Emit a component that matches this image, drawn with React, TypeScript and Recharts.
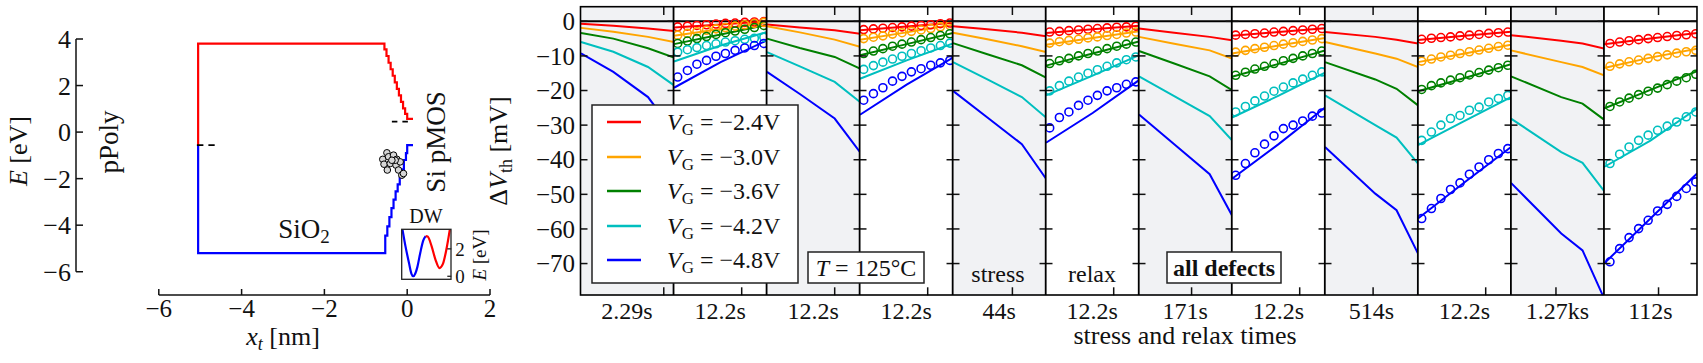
import React from 'react';
import { ComposedChart, Line, XAxis, YAxis, ReferenceLine, CartesianGrid } from 'recharts';

const FONT = '"Liberation Serif", "DejaVu Serif", serif';
const INK = '#111';
const GRAY = '#f1f2f4';

// ---------------- left panel: band diagram ----------------
const bandXTicks = [-6, -4, -2, 0, 2];
const bandYTicks = [-6, -4, -2, 0, 2, 4];
const cbX = [-5.05, -5.05, -0.55, -0.5, -0.45, -0.4, -0.35, -0.3, -0.25, -0.2, -0.15, -0.1, -0.05, 0.0, 0.03, 0.14];
const cbE = [-0.56, 3.8, 3.8, 3.55, 3.27, 2.98, 2.7, 2.42, 2.14, 1.86, 1.58, 1.3, 1.02, 0.78, 0.57, 0.57];
const vbX = [-5.05, -5.05, -0.53, -0.53, -0.48, -0.43, -0.38, -0.33, -0.28, -0.23, -0.18, -0.13, -0.08, -0.03, 0.0, 0.02, 0.14];
const vbE = [-0.56, -5.2, -5.2, -4.86, -4.45, -4.05, -3.65, -3.27, -2.9, -2.55, -2.25, -1.95, -1.6, -1.2, -0.9, -0.56, -0.56];
const fermiPolyX = [-5.08, -4.65];
const fermiPolyE = [-0.56, -0.56];
const fermiSiX = [-0.37, 0.03];
const fermiSiE = [0.45, 0.45];
const defectX = [-0.59, -0.49, -0.45, -0.33, -0.25, -0.56, -0.41, -0.27, -0.17, -0.48, -0.21, -0.13, -0.09, -0.29, -0.37];
const defectE = [-1.17, -0.89, -1.06, -0.99, -1.17, -1.38, -1.35, -1.42, -1.28, -1.63, -1.63, -1.85, -1.78, -1.21, -1.21];

// inset: double well
const dwBlueX = [0.01, 0.07, 0.14, 0.19, 0.23, 0.27, 0.31, 0.37, 0.43, 0.48];
const dwBlueE = [3.4, 2.2, 1.0, 0.2, 0.0, 0.2, 0.65, 1.7, 2.6, 2.93];
const dwRedX = [0.48, 0.52, 0.6, 0.68, 0.76, 0.83, 0.9, 0.97];
const dwRedE = [2.93, 2.9, 2.2, 1.2, 0.6, 0.9, 1.95, 3.4];
const dwTicks = [0, 2];

const zipXY = (xs: number[], es: number[]) => xs.map((x, i) => ({ x, e: es[i] }));

// ---------------- right panel: stress / relax ----------------
const vgLabels = ['\u22122.4V', '\u22123.0V', '\u22123.6V', '\u22124.2V', '\u22124.8V'];
const vgColors = ['#ff0000', '#ffa500', '#008000', '#00bfbf', '#0000ff'];
const panelLabels = ['2.29s', '12.2s', '12.2s', '12.2s', '44s', '12.2s', '171s', '12.2s', '514s', '12.2s', '1.27ks', '112s'];
const panelEnds = [2.29, 12.2, 12.2, 12.2, 44, 12.2, 171, 12.2, 514, 12.2, 1270, 112];
const yTicks = [0, -10, -20, -30, -40, -50, -60, -70];
const TMIN = 0.00125;

// stress (model only) — order: -2.4, -3.0, -3.6, -4.2, -4.8 V
const stress1Times = [0.00125, 0.017, 0.28, 2.29];
const stress1 = [
  [-0.7, -1.3, -2.1, -2.8],
  [-1.9, -3.0, -4.5, -6.0],
  [-3.4, -5.0, -7.8, -10.5],
  [-6.0, -8.8, -13.2, -18.5],
  [-9.3, -14.6, -21.9, -32.0],
];
const stress2Times = [0.00125, 0.032, 1, 12.2];
const stress2 = [
  [-0.9, -1.8, -2.6, -3.6],
  [-1.4, -3.2, -5.3, -7.4],
  [-5.0, -7.7, -10.3, -13.7],
  [-8.9, -13.0, -17.5, -23.3],
  [-14.6, -21.0, -28.1, -37.8],
];
const stress3Times = [0.00125, 0.06, 2.9, 44];
const stress3 = [
  [-1.4, -2.3, -3.3, -4.3],
  [-3.3, -5.2, -7.2, -8.9],
  [-6.3, -9.5, -12.7, -16.3],
  [-11.8, -16.8, -21.9, -27.8],
  [-20.1, -27.8, -35.5, -45.5],
];
const stress4Times = [0.00125, 0.11, 10, 171];
const stress4 = [
  [-2.1, -3.3, -4.5, -5.5],
  [-4.5, -6.5, -8.4, -10.8],
  [-8.6, -12.2, -15.9, -19.9],
  [-15.9, -21.6, -27.4, -34.4],
  [-26.9, -35.5, -44.2, -56.1],
];
const stress5Times = [0.00125, 1.35, 26, 514];
const stress5 = [
  [-3.1, -4.5, -5.3, -6.4],
  [-6.0, -9.3, -10.8, -13.2],
  [-11.8, -16.8, -19.5, -24.3],
  [-21.4, -30.0, -33.6, -41.1],
  [-36.3, -49.8, -54.6, -67.1],
];
const stress6Times = [0.00125, 2.2, 52, 1270];
const stress6 = [
  [-4.0, -5.6, -6.4, -7.9],
  [-8.4, -11.8, -13.2, -15.6],
  [-15.9, -21.9, -23.8, -28.4],
  [-28.1, -37.8, -40.9, -49.0],
  [-46.7, -61.3, -66.2, -80.0],
];

// relax: model line + measured circles
const relaxShortModelTimes = [0.00125, 0.125, 12.2];
const relaxLongModelTimes = [0.00125, 0.37, 112];
const relaxShortMeasTimes = [0.0018, 0.0047, 0.012, 0.031, 0.079, 0.2, 0.52, 1.35, 3.5, 8.9];
const relaxLongMeasTimes = [0.0026, 0.0085, 0.027, 0.087, 0.28, 0.89, 2.9, 9.3, 30, 96];

const relax1Model = [
  [-1.8, -0.9, 0.0],
  [-4.2, -2.2, -0.3],
  [-6.6, -3.8, -1.0],
  [-11.6, -7.0, -3.1],
  [-19.2, -11.8, -5.5],
];
const relax1Meas = [
  [-1.6, -1.4, -1.2, -1.0, -0.8, -0.6, -0.5, -0.3, -0.2, -0.1],
  [-4.0, -3.5, -3.0, -2.6, -2.2, -1.8, -1.4, -1.0, -0.6, -0.3],
  [-6.4, -5.7, -5.0, -4.4, -3.8, -3.3, -2.8, -2.3, -1.8, -1.2],
  [-8.9, -8.2, -7.6, -7.0, -6.5, -6.0, -5.6, -5.2, -4.9, -4.6],
  [-16.1, -14.2, -12.4, -11.3, -10.1, -9.3, -8.4, -7.7, -7.0, -6.4],
];
const relax2Model = [
  [-2.6, -1.5, -0.4],
  [-5.3, -3.2, -1.0],
  [-9.8, -6.6, -3.4],
  [-16.6, -11.3, -6.4],
  [-27.0, -18.3, -10.5],
];
const relax2Meas = [
  [-2.4, -2.2, -2.0, -1.8, -1.6, -1.4, -1.2, -1.0, -0.7, -0.5],
  [-5.0, -4.6, -4.2, -3.7, -3.3, -2.9, -2.5, -2.1, -1.6, -1.2],
  [-9.3, -8.6, -7.9, -7.2, -6.6, -6.0, -5.3, -4.7, -4.1, -3.6],
  [-13.9, -12.8, -11.8, -10.9, -10.1, -9.3, -8.5, -7.7, -7.0, -6.3],
  [-22.8, -20.9, -19.2, -17.3, -15.9, -14.6, -13.7, -12.7, -12.0, -11.3],
];
const relax3Model = [
  [-3.4, -2.3, -1.3],
  [-6.8, -4.8, -2.9],
  [-12.8, -9.3, -5.8],
  [-21.4, -15.7, -9.8],
  [-35.1, -26.5, -17.0],
];
const relax3Meas = [
  [-3.1, -2.9, -2.7, -2.5, -2.3, -2.1, -1.9, -1.7, -1.6, -1.4],
  [-6.3, -5.9, -5.5, -5.2, -4.8, -4.5, -4.1, -3.8, -3.4, -3.1],
  [-12.2, -11.4, -10.7, -10.0, -9.3, -8.6, -7.9, -7.2, -6.6, -6.0],
  [-20.1, -18.6, -17.3, -16.1, -15.0, -14.0, -13.0, -12.0, -11.1, -10.3],
  [-30.8, -27.8, -26.2, -24.3, -22.8, -21.4, -20.1, -19.2, -18.2, -17.5],
];
const relax4Model = [
  [-4.2, -3.1, -2.0],
  [-9.3, -7.0, -4.8],
  [-16.0, -12.3, -8.4],
  [-27.8, -21.5, -14.8],
  [-45.5, -35.5, -24.9],
];
const relax4Meas = [
  [-4.0, -3.8, -3.6, -3.4, -3.1, -2.9, -2.7, -2.5, -2.3, -2.1],
  [-8.9, -8.4, -7.9, -7.5, -7.0, -6.6, -6.2, -5.8, -5.4, -5.0],
  [-15.6, -14.7, -13.8, -13.0, -12.2, -11.4, -10.7, -10.0, -9.3, -8.6],
  [-26.2, -24.6, -23.0, -21.6, -20.2, -19.0, -17.8, -16.7, -15.6, -14.6],
  [-44.5, -41.1, -38.0, -35.5, -33.1, -31.0, -30.0, -28.8, -27.4, -26.5],
];
const relax5Model = [
  [-5.4, -4.2, -3.0],
  [-11.8, -9.3, -6.8],
  [-20.2, -16.4, -12.4],
  [-35.8, -28.8, -21.9],
  [-57.0, -46.5, -36.3],
];
const relax5Meas = [
  [-5.2, -4.9, -4.7, -4.5, -4.2, -4.0, -3.8, -3.5, -3.3, -3.1],
  [-11.5, -10.9, -10.3, -9.8, -9.3, -8.8, -8.3, -7.8, -7.3, -6.9],
  [-19.7, -18.6, -17.8, -17.0, -16.3, -15.5, -14.8, -14.1, -13.4, -12.7],
  [-34.4, -32.0, -30.0, -28.1, -27.2, -25.7, -24.8, -23.3, -22.3, -21.4],
  [-57.0, -54.1, -51.2, -48.6, -46.7, -44.2, -42.1, -40.0, -38.2, -36.8],
];
const relax6Model = [
  [-6.6, -5.0, -3.4],
  [-13.5, -10.5, -7.9],
  [-25.2, -19.8, -14.4],
  [-42.1, -34.5, -25.2],
  [-70.0, -57.0, -44.0],
];
const relax6Meas = [
  [-6.4, -6.0, -5.6, -5.3, -5.0, -4.7, -4.4, -4.1, -3.9, -3.6],
  [-13.0, -12.3, -11.7, -11.2, -10.7, -10.2, -9.7, -9.2, -8.8, -8.4],
  [-24.6, -23.3, -22.2, -21.2, -20.2, -19.3, -18.3, -17.3, -16.3, -15.3],
  [-41.1, -38.4, -36.3, -34.4, -32.9, -31.5, -30.3, -29.1, -27.6, -26.2],
  [-69.5, -65.7, -62.5, -59.9, -57.5, -54.8, -52.9, -50.6, -48.3, -46.4],
];

type PanelDef = { model: number[][]; modelTimes: number[]; meas?: number[][]; measTimes?: number[] };
const panels: PanelDef[] = [
  { model: stress1, modelTimes: stress1Times },
  { model: relax1Model, modelTimes: relaxShortModelTimes, meas: relax1Meas, measTimes: relaxShortMeasTimes },
  { model: stress2, modelTimes: stress2Times },
  { model: relax2Model, modelTimes: relaxShortModelTimes, meas: relax2Meas, measTimes: relaxShortMeasTimes },
  { model: stress3, modelTimes: stress3Times },
  { model: relax3Model, modelTimes: relaxShortModelTimes, meas: relax3Meas, measTimes: relaxShortMeasTimes },
  { model: stress4, modelTimes: stress4Times },
  { model: relax4Model, modelTimes: relaxShortModelTimes, meas: relax4Meas, measTimes: relaxShortMeasTimes },
  { model: stress5, modelTimes: stress5Times },
  { model: relax5Model, modelTimes: relaxShortModelTimes, meas: relax5Meas, measTimes: relaxShortMeasTimes },
  { model: stress6, modelTimes: stress6Times },
  { model: relax6Model, modelTimes: relaxLongModelTimes, meas: relax6Meas, measTimes: relaxLongMeasTimes },
];

// ---------------- layout ----------------
const X0 = 580.5;
const Y0 = 6.7;
const PW = 93.04;
const PH = 288.3;
const YMIN = -79.17;
const YMAX = 4.13;
const YAXW = 62;
const XAXH = 10;

const fmt = (v: number) => (v < 0 ? '\u2212' + Math.abs(v) : String(v));

const zipTV = (ts: number[], vs: number[]) => ts.map((t, i) => ({ t, v: vs[i] }));

const PanelXTick = (props: any) => {
  const { x, y } = props;
  return (
    <g>
      <line x1={x} x2={x} y1={y} y2={y - 8} stroke={INK} strokeWidth={1.5} />
      <line x1={x} x2={x} y1={y - PH} y2={y - PH + 8} stroke={INK} strokeWidth={1.5} />
    </g>
  );
};

const makePanelYTick = (first: boolean) => (props: any) => {
  const { x, y, payload } = props;
  return (
    <g>
      <line x1={x} x2={x + 6.5} y1={y} y2={y} stroke={INK} strokeWidth={1.5} />
      <line x1={x + PW} x2={x + PW - 6.5} y1={y} y2={y} stroke={INK} strokeWidth={1.5} />
      {first && (
        <text x={x - 6} y={y} dy="0.35em" textAnchor="end" fontSize={25} fontFamily={FONT} fill={INK}>
          {fmt(payload.value)}
        </text>
      )}
    </g>
  );
};

function Panel({ idx }: { idx: number }) {
  const p = panels[idx];
  const first = idx === 0;
  const yw = first ? YAXW : 8;
  const stress = idx % 2 === 0;
  return (
    <div style={{ position: 'absolute', left: X0 + idx * PW - yw, top: Y0, width: PW + yw, height: PH + XAXH }}>
      <ComposedChart width={PW + yw} height={PH + XAXH} margin={{ top: 0, right: 0, bottom: 0, left: 0 }}>
        <CartesianGrid fill={stress ? GRAY : '#ffffff'} fillOpacity={1} stroke="none" horizontal={false} vertical={false} />
        <XAxis
          type="number"
          dataKey="t"
          scale="log"
          domain={[TMIN, panelEnds[idx]]}
          allowDataOverflow
          ticks={[1]}
          height={XAXH}
          axisLine={false}
          tickLine={false}
          tickSize={0}
          tickMargin={0}
          interval={0}
          tick={PanelXTick}
        />
        <YAxis
          type="number"
          domain={[YMIN, YMAX]}
          allowDataOverflow
          ticks={yTicks}
          width={yw}
          axisLine={false}
          tickLine={false}
          tickSize={0}
          tickMargin={0}
          interval={0}
          tick={makePanelYTick(first)}
        />
        <ReferenceLine y={0} stroke="#000" strokeWidth={2} />
        {p.model.map((vals, s) => (
          <Line
            key={'m' + s}
            data={zipTV(p.modelTimes, vals)}
            dataKey="v"
            type="linear"
            stroke={vgColors[s]}
            strokeWidth={2}
            dot={false}
            isAnimationActive={false}
          />
        ))}
        {p.meas &&
          p.meas.map((vals, s) => (
            <Line
              key={'d' + s}
              data={zipTV(p.measTimes as number[], vals)}
              dataKey="v"
              type="linear"
              stroke="none"
              strokeWidth={0}
              dot={{ r: 4, stroke: vgColors[s], strokeWidth: 1.6, fill: 'none' }}
              isAnimationActive={false}
            />
          ))}
      </ComposedChart>
    </div>
  );
}

const BandXTick = (props: any) => {
  const { x, y, payload } = props;
  return (
    <g>
      <line x1={x} x2={x} y1={y} y2={y - 6} stroke={INK} strokeWidth={1.5} />
      <text x={x} y={y + 22} textAnchor="middle" fontSize={25} fontFamily={FONT} fill={INK}>
        {fmt(payload.value)}
      </text>
    </g>
  );
};
const BandYTick = (props: any) => {
  const { x, y, payload } = props;
  return (
    <g>
      <line x1={x} x2={x + 7} y1={y} y2={y} stroke={INK} strokeWidth={1.5} />
      <text x={x - 5} y={y} dy="0.35em" textAnchor="end" fontSize={26} fontFamily={FONT} fill={INK}>
        {fmt(payload.value)}
      </text>
    </g>
  );
};
const DWTick = (props: any) => {
  const { x, y, payload } = props;
  return (
    <g>
      <line x1={x - 4} x2={x} y1={y} y2={y} stroke={INK} strokeWidth={1.2} />
      <text x={x + 4} y={y} dy="0.35em" textAnchor="start" fontSize={19} fontFamily={FONT} fill={INK}>
        {payload.value}
      </text>
    </g>
  );
};

function BandChart() {
  return (
    <div style={{ position: 'absolute', left: 0, top: 0, width: 500, height: 363 }}>
      <ComposedChart width={500} height={363} margin={{ top: 39, right: 10, bottom: 38, left: 0 }}>
        <XAxis
          type="number"
          dataKey="x"
          domain={[-8, 2]}
          ticks={bandXTicks}
          height={30}
          axisLine={false}
          tickLine={false}
          tickSize={0}
          tickMargin={0}
          interval={0}
          tick={BandXTick}
        />
        <YAxis
          type="number"
          domain={[-7, 4]}
          ticks={bandYTicks}
          width={76}
          axisLine={false}
          tickLine={false}
          tickSize={0}
          tickMargin={0}
          interval={0}
          tick={BandYTick}
        />
        <ReferenceLine segment={[{ x: -6, y: -7 }, { x: 2, y: -7 }]} stroke={INK} strokeWidth={1.5} />
        <ReferenceLine segment={[{ x: -8, y: -6 }, { x: -8, y: 4 }]} stroke={INK} strokeWidth={1.5} />
        <Line data={zipXY(cbX, cbE)} dataKey="e" type="stepBefore" stroke="#ff0000" strokeWidth={2.2} dot={false} isAnimationActive={false} />
        <Line data={zipXY(vbX, vbE)} dataKey="e" type="stepBefore" stroke="#0000ff" strokeWidth={2.2} dot={false} isAnimationActive={false} />
        <Line data={zipXY(fermiPolyX, fermiPolyE)} dataKey="e" type="linear" stroke="#000" strokeWidth={1.6} strokeDasharray="6.5 5" dot={false} isAnimationActive={false} />
        <Line data={zipXY(fermiSiX, fermiSiE)} dataKey="e" type="linear" stroke="#000" strokeWidth={1.6} strokeDasharray="5.5 5" dot={false} isAnimationActive={false} />
        <Line
          data={zipXY(defectX, defectE)}
          dataKey="e"
          type="linear"
          stroke="none"
          strokeWidth={0}
          dot={{ r: 3.3, stroke: '#000', strokeWidth: 1, fill: '#d6d6d6' }}
          isAnimationActive={false}
        />
      </ComposedChart>
    </div>
  );
}

const DW_LEFT = 401.7;
const DW_TOP = 229.3;
const DW_W = 49.3;
const DW_H = 50;

function DWChart() {
  return (
    <div style={{ position: 'absolute', left: DW_LEFT, top: DW_TOP, width: DW_W + 30, height: DW_H + 14 }}>
      <ComposedChart width={DW_W + 30} height={DW_H + 14} margin={{ top: 0, right: 0, bottom: 14, left: 0 }}>
        <CartesianGrid fill="#ffffff" fillOpacity={1} stroke="none" horizontal={false} vertical={false} />
        <XAxis type="number" dataKey="x" domain={[0, 1]} hide />
        <YAxis
          type="number"
          orientation="right"
          domain={[-0.2, 3.45]}
          ticks={dwTicks}
          width={30}
          axisLine={false}
          tickLine={false}
          tickSize={0}
          tickMargin={0}
          interval={0}
          tick={DWTick}
        />
        <Line data={zipXY(dwBlueX, dwBlueE)} dataKey="e" type="monotone" stroke="#0000ff" strokeWidth={2.2} dot={false} isAnimationActive={false} />
        <Line data={zipXY(dwRedX, dwRedE)} dataKey="e" type="monotone" stroke="#ff0000" strokeWidth={2.2} dot={false} isAnimationActive={false} />
      </ComposedChart>
    </div>
  );
}

function Overlay() {
  const sepXs = panelLabels.map((_, i) => X0 + i * PW).slice(1);
  const legendY = [122, 157, 191, 226, 260];
  return (
    <svg
      width={1703}
      height={363}
      style={{ position: 'absolute', left: 0, top: 0, pointerEvents: 'none' }}
      fontFamily={FONT}
      fill={INK}
    >
      {/* panel frame */}
      <rect x={X0} y={Y0} width={PW * 12} height={PH} fill="none" stroke="#000" strokeWidth={1.6} />
      {sepXs.map((x, i) => (
        <line key={i} x1={x} x2={x} y1={Y0} y2={Y0 + PH} stroke="#000" strokeWidth={1.8} />
      ))}
      {/* inset frame */}
      <rect x={DW_LEFT} y={DW_TOP} width={DW_W} height={DW_H} fill="none" stroke="#222" strokeWidth={1.3} />

      {/* left texts */}
      <text transform="translate(27,151) rotate(-90)" textAnchor="middle" fontSize={26}>
        <tspan fontStyle="italic">E</tspan> [eV]
      </text>
      <text transform="translate(118,142) rotate(-90)" textAnchor="middle" fontSize={27}>
        pPoly
      </text>
      <text transform="translate(445,142) rotate(-90)" textAnchor="middle" fontSize={27}>
        Si pMOS
      </text>
      <text x={304} y={237.5} textAnchor="middle" fontSize={27}>
        SiO<tspan fontSize={19} dy={5}>2</tspan>
      </text>
      <text x={283} y={345} textAnchor="middle" fontSize={26}>
        <tspan fontStyle="italic">x</tspan>
        <tspan fontStyle="italic" fontSize={18} dy={5}>t</tspan>
        <tspan dy={-5}> [nm]</tspan>
      </text>
      <text x={426} y={223} textAnchor="middle" fontSize={20}>
        DW
      </text>
      <text transform="translate(486,255) rotate(-90)" textAnchor="middle" fontSize={19}>
        <tspan fontStyle="italic">E</tspan> [eV]
      </text>

      {/* right axis label */}
      <text transform="translate(507,151) rotate(-90)" textAnchor="middle" fontSize={26}>
        Δ<tspan fontStyle="italic">V</tspan>
        <tspan fontSize={18} dy={5}>th</tspan>
        <tspan dy={-5}> [mV]</tspan>
      </text>

      {/* panel labels */}
      {panelLabels.map((l, i) => (
        <text key={i} x={X0 + (i + 0.5) * PW} y={319} textAnchor="middle" fontSize={24}>
          {l}
        </text>
      ))}
      <text x={1185} y={344} textAnchor="middle" fontSize={26}>
        stress and relax times
      </text>
      <text x={998} y={282} textAnchor="middle" fontSize={24}>
        stress
      </text>
      <text x={1092} y={282} textAnchor="middle" fontSize={24}>
        relax
      </text>

      {/* legend */}
      <rect x={592} y={105} width={206} height={178} fill="#fff" stroke="#222" strokeWidth={1.5} />
      {vgLabels.map((l, i) => (
        <g key={i}>
          <line x1={607} x2={641} y1={legendY[i]} y2={legendY[i]} stroke={vgColors[i]} strokeWidth={2.5} />
          <text x={667} y={legendY[i] + 8} fontSize={24}>
            <tspan fontStyle="italic">V</tspan>
            <tspan fontSize={17} dy={5}>G</tspan>
            <tspan dy={-5}>{' = ' + l}</tspan>
          </text>
        </g>
      ))}

      {/* T box */}
      <rect x={808} y={252} width={116} height={31} fill="#fff" stroke="#222" strokeWidth={1.5} />
      <text x={866} y={276} textAnchor="middle" fontSize={24}>
        <tspan fontStyle="italic">T</tspan> = 125°C
      </text>

      {/* all defects box */}
      <rect x={1167} y={252} width={114} height={31} fill="#fff" stroke="#222" strokeWidth={1.5} />
      <text x={1224} y={276} textAnchor="middle" fontSize={24} fontWeight="bold">
        all defects
      </text>
    </svg>
  );
}

export default function App() {
  return (
    <div
      style={{
        position: 'absolute',
        left: 0,
        top: 0,
        width: 1703,
        height: 363,
        background: '#fff',
        overflow: 'hidden',
        fontFamily: FONT,
      }}
    >
      <BandChart />
      <DWChart />
      {panels.map((_, i) => (
        <Panel key={i} idx={i} />
      ))}
      <Overlay />
    </div>
  );
}
